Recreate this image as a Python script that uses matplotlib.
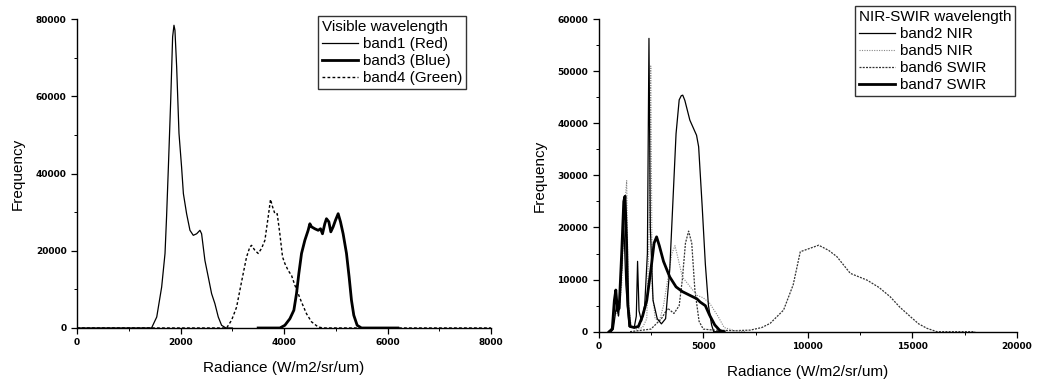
"""
Radiance histograms for visible and NIR-SWIR bands
"""
import numpy as np
import matplotlib
matplotlib.use('Agg')
import matplotlib.pyplot as plt
from matplotlib.ticker import MultipleLocator

plt.rcParams['font.family'] = ['Liberation Sans', 'DejaVu Sans']

# ---- Visible wavelength (left panel) ----
b1_x = [0, 1000, 1440, 1540, 1635, 1700, 1730, 1765, 1810, 1847, 1873, 1892, 1925, 1970, 2020,
        2055, 2117, 2182, 2246, 2311, 2375, 2407, 2471, 2536, 2600, 2664, 2729, 2793, 2877, 3000]
b1_y = [0, 0, 0, 2850, 10600, 19300, 28800, 41700, 59000, 75400, 78400, 77100, 67600, 50400, 41700,
        34800, 29600, 25300, 24000, 24400, 25300, 24400, 17500, 13200, 8900, 6300, 2850, 700, 0, 0]

b3_x = [3500, 3920, 4016, 4113, 4190, 4241, 4286, 4338, 4402, 4466, 4499, 4531, 4595, 4660, 4705,
        4743, 4788, 4820, 4866, 4904, 4949, 4994, 5046, 5091, 5142, 5207, 5258, 5303, 5348, 5413,
        5496, 6200]
b3_y = [0, 0, 700, 2400, 4600, 8900, 14100, 19300, 22700, 25300, 27000, 26200, 25700, 25300, 25700,
        24400, 27000, 28300, 27500, 24900, 26200, 27900, 29600, 27500, 24400, 19300, 13200, 7200, 3300, 700,
        0, 0]

b4_x = [0, 2890, 2986, 3083, 3147, 3211, 3276, 3340, 3372, 3437, 3501, 3565, 3630, 3694, 3739,
        3778, 3823, 3868, 3919, 3971, 4016, 4080, 4145, 4209, 4273, 4338, 4434, 4531, 4660, 4756, 8000]
b4_y = [0, 0, 2000, 5400, 9800, 14100, 18400, 21000, 21400, 20100, 19300, 20600, 22700, 28800, 33300,
        31400, 29600, 29600, 24400, 18400, 16700, 14900, 13600, 11100, 8900, 6700, 3700, 1600, 260, 0, 0]

# ---- NIR-SWIR wavelength (right panel) ----
b2_x = [600, 700, 850, 950, 1100, 1200, 1300, 1450, 1700, 1800, 1860, 1930, 2050, 2200, 2330, 2405,
        2470, 2600, 2800, 3000, 3200, 3400, 3550, 3700, 3850, 3950, 4020, 4120, 4360, 4680, 4780,
        4950, 5100, 5250, 5400, 5500, 6000]
b2_y = [0, 500, 5000, 3000, 12000, 21000, 9000, 1000, 800, 3000, 13500, 4000, 2000, 5000, 15000, 56300,
        20000, 6000, 2500, 1500, 2500, 12000, 25000, 38000, 44500, 45300, 45400, 44400, 40600, 37700, 35500,
        24000, 13000, 5000, 1300, 0, 0]

b5_x = [500, 700, 800, 950, 1100, 1200, 1280, 1340, 1420, 1550, 1800, 2100, 2300, 2420, 2490,
        2560, 2700, 2900, 3100, 3300, 3500, 3650, 3800, 4000, 4300, 4700, 5000, 5300, 5700,
        6000, 6500, 7000]
b5_y = [0, 1500, 4000, 3000, 9000, 20000, 26000, 29000, 6000, 1000, 500, 800, 2500, 20000, 51000,
        8000, 2500, 2000, 5000, 10000, 15000, 16500, 14000, 10500, 9000, 7000, 6500, 5500, 3000,
        800, 200, 0]

b6_x = [1500, 2500, 3000, 3300, 3600, 3850, 4000, 4150, 4300, 4450, 4600, 4800, 5000, 5500, 6500,
        7250, 7800, 8200, 8840, 9300, 9640, 10100, 10520, 11000, 11390, 12030, 12830, 13400,
        13940, 14400, 14900, 15300, 15700, 16170, 17000, 18000]
b6_y = [0, 500, 2500, 4500, 3500, 5000, 10000, 17000, 19300, 17000, 8000, 2000, 500, 300, 200,
        300, 800, 1600, 4150, 9000, 15350, 16000, 16600, 15600, 14400, 11200, 9900, 8500,
        6700, 4700, 2900, 1500, 640, 0, 0, 0]

b7_x = [500, 650, 750, 820, 900, 980, 1100, 1200, 1260, 1330, 1400, 1500, 1700, 1900, 2100, 2300,
        2500, 2650, 2770, 2900, 3100, 3400, 3700, 4000, 4350, 4700, 4850, 5100, 5300, 5550,
        5800, 6000]
b7_y = [0, 500, 6000, 8000, 4000, 4500, 15000, 25000, 26000, 18000, 5000, 1000, 800, 1000, 3000, 6000,
        12000, 17000, 18200, 16500, 13500, 10500, 8600, 7700, 7000, 6300, 5700, 5000, 3200, 1300,
        200, 0]

fig = plt.figure(figsize=(10.37, 3.82), dpi=100)
ax1 = fig.add_axes([0.0743, 0.1414, 0.3992, 0.8086])
ax2 = fig.add_axes([0.5773, 0.1317, 0.4034, 0.8183])


def style_axes(ax, xmax, ymax, xmaj, xmin, ymaj, ymin):
    ax.set_xlim(0, xmax)
    ax.set_ylim(0, ymax)
    ax.xaxis.set_major_locator(MultipleLocator(xmaj))
    ax.xaxis.set_minor_locator(MultipleLocator(xmin))
    ax.yaxis.set_major_locator(MultipleLocator(ymaj))
    ax.yaxis.set_minor_locator(MultipleLocator(ymin))
    ax.spines['top'].set_visible(False)
    ax.spines['right'].set_visible(False)
    ax.spines['left'].set_linewidth(1.0)
    ax.spines['bottom'].set_linewidth(1.0)
    ax.tick_params(which='major', direction='out', length=4, width=0.9, labelsize=6.5)
    ax.tick_params(which='minor', direction='out', length=2.5, width=0.7)
    for lab in ax.get_xticklabels() + ax.get_yticklabels():
        lab.set_fontweight('bold')
        lab.set_family('DejaVu Sans')
    ax.set_xlabel('Radiance (W/m2/sr/um)', fontsize=11, labelpad=10)
    ax.set_ylabel('Frequency', fontsize=11, labelpad=8)


# left panel
ax1.plot(b1_x, b1_y, color='black', lw=0.9, label='band1 (Red)')
ax1.plot(b3_x, b3_y, color='black', lw=2.0, label='band3 (Blue)')
ax1.plot(b4_x, b4_y, color='black', lw=1.0, ls=(0, (2.0, 1.6)), label='band4 (Green)')
style_axes(ax1, 8000, 80000, 2000, 1000, 20000, 10000)

# right panel
ax2.plot(b6_x, b6_y, color='#333333', lw=0.9, ls=(0, (1.6, 1.0)), label='band6 SWIR')
ax2.plot(b5_x, b5_y, color='#888888', lw=0.8, ls=(0, (1.0, 1.2)), label='band5 NIR')
ax2.plot(b2_x, b2_y, color='black', lw=0.9, label='band2 NIR')
ax2.plot(b7_x, b7_y, color='black', lw=2.0, label='band7 SWIR')
style_axes(ax2, 20000, 60000, 5000, 2500, 10000, 5000)

h, l = ax2.get_legend_handles_labels()
order = [2, 1, 0, 3]

leg_kw = dict(fontsize=11, title_fontsize=11, frameon=True, fancybox=False,
              handlelength=2.4, handletextpad=0.3, labelspacing=0.2,
              borderpad=0.25, borderaxespad=0, alignment='left')
leg1 = ax1.legend(title='Visible wavelength', loc='upper right',
                  bbox_to_anchor=(466 / 1037, 1 - 16 / 382),
                  bbox_transform=fig.transFigure, **leg_kw)
leg2 = ax2.legend([h[i] for i in order], [l[i] for i in order],
                  title='NIR-SWIR wavelength', loc='upper right',
                  bbox_to_anchor=(1015 / 1037, 1 - 6 / 382),
                  bbox_transform=fig.transFigure, **leg_kw)
for leg in (leg1, leg2):
    leg.get_frame().set_edgecolor('black')
    leg.get_frame().set_linewidth(1.0)

plt.savefig('out.png', dpi=100)
